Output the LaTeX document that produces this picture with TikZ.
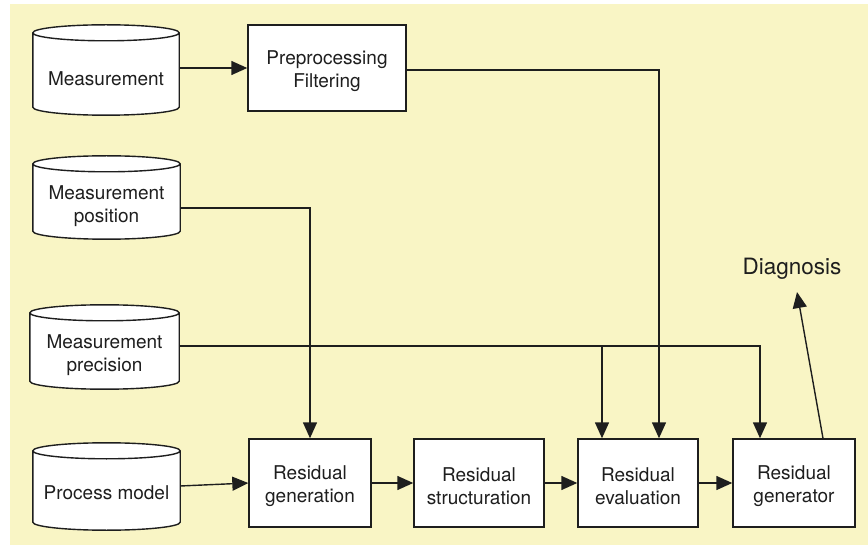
\documentclass[tikz,border=0pt]{standalone}
\usepackage{fontspec}
\setmainfont{TeX Gyre Heros}
\usetikzlibrary{arrows.meta,backgrounds,calc}
\definecolor{bgyellow}{RGB}{249,245,197}
\definecolor{ink}{RGB}{30,30,30}
\newcommand{\boxstrut}{\rule{0pt}{19.5pt}}
\newcommand{\cylstrut}{\rule{0pt}{18.5pt}}
\begin{document}
\begin{tikzpicture}[x=1pt,y=1pt,
  box/.style={draw=ink, line width=1.4pt, fill=white, align=center, text=ink,
    font=\fontsize{19}{23}\selectfont, inner sep=0pt},
  cyl/.style={align=center, text=ink, font=\fontsize{19}{23}\selectfont, inner sep=0pt},
  arr/.style={draw=ink, line width=1.4pt, -{Triangle[length=16pt,width=14pt]}}]
\useasboundingbox (0,0) rectangle (868,547);
\begin{scope}[on background layer]
  \fill[bgyellow] (10,2) rectangle (868,543);
\end{scope}

% cylinders (data stores)
\node[cyl, minimum width=146pt, minimum height=78pt] (m1) at (106,471) {\cylstrut Measurement};
\node[cyl, minimum width=147pt, minimum height=71pt] (m2) at (106.5,343.5) {\cylstrut Measurement\\position};
\node[cyl, minimum width=149pt, minimum height=72pt] (m3) at (104.5,194) {\cylstrut Measurement\\precision};
\node[cyl, minimum width=147pt, minimum height=75pt] (m4) at (106.5,54.5) {Process model};

\foreach \c in {m1,m2,m3,m4}{
  \begin{scope}[on background layer]
  \filldraw[fill=white, draw=ink, line width=1.4pt]
    let \p1=(\c.north west), \p2=(\c.south east), \n1={(\x2-\x1)/2} in
    (\x1,\y1+4pt) -- (\x1,\y2+8pt)
      arc[start angle=180,end angle=360,x radius=\n1,y radius=8pt]
      -- (\x2,\y1+4pt)
      arc[start angle=0,end angle=180,x radius=\n1,y radius=8pt] -- cycle
    (\x1,\y1+4pt) arc[start angle=180,end angle=360,x radius=\n1,y radius=8pt];
  \end{scope}
}

% process boxes
\node[box, minimum width=158pt, minimum height=86pt] (pre) at (327,479) {\boxstrut Preprocessing\\Filtering};
\node[box, minimum width=122pt, minimum height=88pt] (rg) at (310,64) {\boxstrut Residual\\generation};
\node[box, minimum width=130pt, minimum height=88pt] (rs) at (479,64) {\boxstrut Residual\\structuration};
\node[box, minimum width=120pt, minimum height=88pt] (re) at (638,64) {\boxstrut Residual\\evaluation};
\node[box, minimum width=122pt, minimum height=88pt] (rgen) at (794,64) {\boxstrut Residual\\generator};

\node[anchor=base, text=ink, font=\fontsize{22.5}{27}\selectfont] (diag) at (792,272) {Diagnosis};
\coordinate (dtip) at (797,255);

% connectors
\draw[arr] (m1.east |- pre.west) -- (pre.west);
\draw[arr] ([yshift=-2pt]pre.east) -| ([xshift=21pt]re.north);
\draw[arr] ([yshift=-4.5pt]m2.east) -| (rg.north);
\coordinate (p3) at ([yshift=7pt]m3.east);
\coordinate (e1) at ([xshift=-36pt]re.north);
\draw[arr] (p3) -| ([xshift=-34pt]rgen.north);
\draw[arr] (e1 |- p3) -- (e1);
\draw[arr] ([yshift=6.5pt]m4.east) -- (rg.west);
\draw[arr] (rg.east) -- (rs.west);
\draw[arr] (rs.east) -- (re.west);
\draw[arr] (re.east) -- (rgen.west);
\draw[arr] ([xshift=29pt]rgen.north) -- (dtip);
\end{tikzpicture}
\end{document}
